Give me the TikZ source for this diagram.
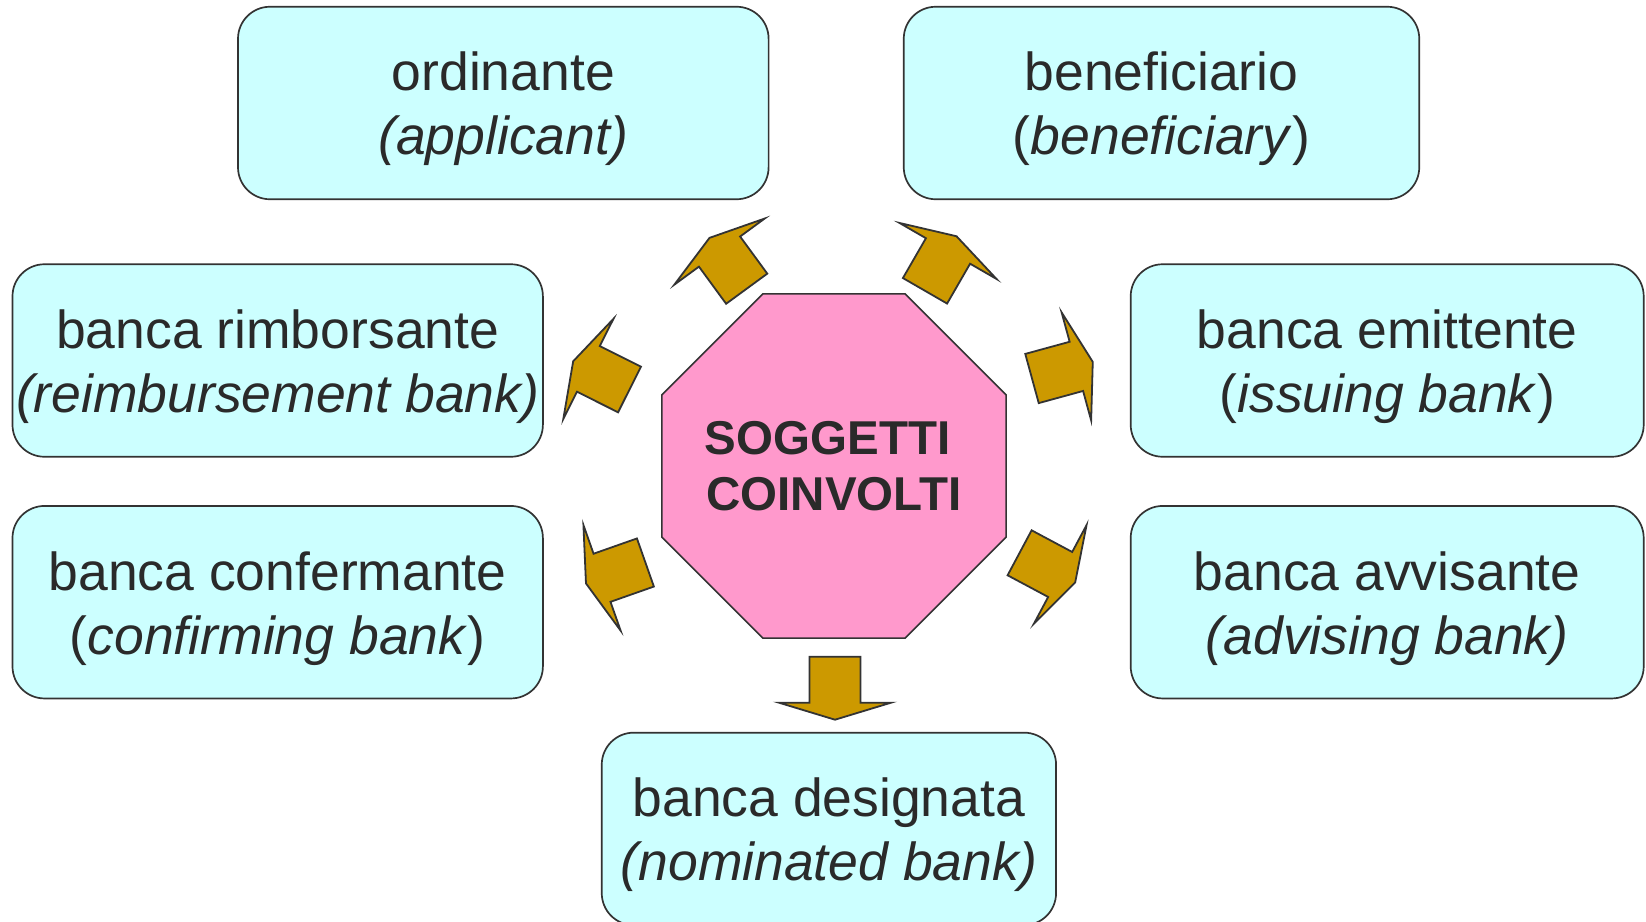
\documentclass[tikz,border=0pt]{standalone}
\usepackage{fontspec}
\setmainfont{Liberation Sans}
\usetikzlibrary{shapes.geometric}
\definecolor{boxfill}{HTML}{CCFFFF}
\definecolor{hubfill}{HTML}{FF99CC}
\definecolor{arrowfill}{HTML}{CC9900}
\definecolor{linegray}{HTML}{333333}
\definecolor{textgray}{HTML}{2A2A2A}
\newcommand\upstrut{\rule{0pt}{51pt}}
\newcommand\downstrut{\rule[-11pt]{0pt}{11pt}}
\tikzset{
  partybox/.style={draw=linegray, line width=1.7pt, fill=boxfill, rounded corners=32pt,
    minimum height=192.5pt, inner sep=0pt, outer sep=0pt, align=center, text=textgray,
    font={\fontsize{53.5}{64}\selectfont}},
  hubshape/.style={regular polygon, regular polygon sides=8, minimum size=372.4pt,
    inner sep=0pt, outer sep=0pt, draw=linegray, line width=1.5pt, fill=hubfill},
  hubtext/.style={align=center, inner sep=0pt, text=textgray,
    font={\bfseries\fontsize{47.5}{56.6}\selectfont}},
  arrowbody/.style={draw=linegray, line width=1.8pt, fill=arrowfill, line join=miter},
  blockarrow/.pic={\path[arrowbody] (0,-25.5) -- (46,-25.5) -- (46,-56) -- (63,0)
    -- (46,56) -- (46,25.5) -- (0,25.5) -- cycle;}
}
\begin{document}
\begin{tikzpicture}[x=1pt,y=-1pt]
\useasboundingbox (0,0) rectangle (1646,921);
\clip (0,0) rectangle (1646,921);

\node[partybox, minimum width=530.6pt] (ordinante) at (503.3,103)
  {\upstrut ordinante\\\textit{(applicant)}\downstrut};
\node[partybox, minimum width=515.5pt] (beneficiario) at (1161.5,103)
  {\upstrut beneficiario\\(\textit{beneficiary})\downstrut};
\node[partybox, minimum width=530.4pt] (rimborsante) at (277.7,360.5)
  {\upstrut banca rimborsante\\\textit{(reimbursement bank)}\downstrut};
\node[partybox, minimum width=513pt] (emittente) at (1387.2,360.5)
  {\upstrut banca emittente\\(\textit{issuing bank})\downstrut};
\node[partybox, minimum width=530.4pt] (confermante) at (277.7,602.2)
  {\upstrut banca confermante\\(\textit{confirming bank})\downstrut};
\node[partybox, minimum width=513pt] (avvisante) at (1387.2,602.2)
  {\upstrut banca avvisante\\\textit{(advising bank)}\downstrut};
\node[partybox, minimum width=454.3pt] (designata) at (828.9,828.9)
  {\upstrut banca designata\\\textit{(nominated bank)}\downstrut};

\node[hubshape] (hub) at (834,466) {};
\node[hubtext] (hublabel) at (hub.center) {SOGGETTI\hspace*{13pt}\\COINVOLTI};

\pic[rotate=126.2] at (746.7,288.7) {blockarrow};
\pic[rotate=60] at (925,290.8) {blockarrow};
\pic[rotate=15.3] at (1032,378.5) {blockarrow};
\pic[rotate=-28.1] at (1019.6,552.8) {blockarrow};
\pic[rotate=-90] at (835,656.7) {blockarrow};
\pic[rotate=199.4] at (645.4,562.5) {blockarrow};
\pic[rotate=153.4] at (629.5,389.5) {blockarrow};
\end{tikzpicture}
\end{document}
